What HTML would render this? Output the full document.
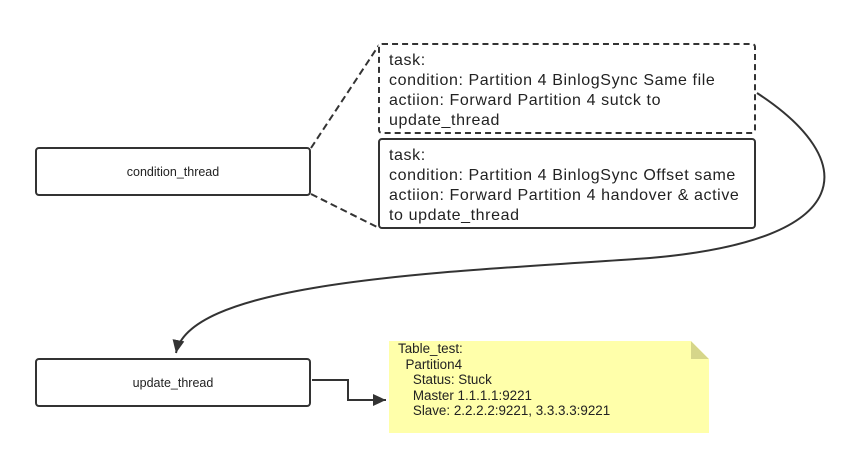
<!DOCTYPE html>
<html><head><style>
body{margin:0;width:851px;height:464px;background:#fff;position:relative;overflow:hidden;font-family:"Liberation Sans",sans-serif;}
.box{position:absolute;box-sizing:border-box;border:2px solid #333;border-radius:4px;background:#fff;}
.c{display:flex;align-items:center;justify-content:center;font-size:12.5px;color:#222;}
.t{font-size:16px;letter-spacing:0.6px;line-height:20px;color:#222;padding:6px 0 0 9px;white-space:nowrap;}
.note{position:absolute;left:389px;top:341px;width:320px;height:92px;background:#ffffaa;font-size:13.4px;line-height:15.5px;color:#222;padding:0;}
</style></head><body>
<svg width="851" height="464" style="position:absolute;left:0;top:0">
<defs><marker id="a" markerWidth="14" markerHeight="14" refX="13" refY="6" orient="auto" markerUnits="userSpaceOnUse"><path d="M0,0 L13,6 L0,12 z" fill="#333"/></marker></defs>
<path d="M311,148 L379,45" stroke="#333" stroke-width="2" stroke-dasharray="7,4" fill="none"/>
<path d="M311,194 L379,228" stroke="#333" stroke-width="2" stroke-dasharray="7,4" fill="none"/>
<path d="M757,93 C860,160 860,240 650,258 C450,272 190,280 176,353" stroke="#333" stroke-width="2" fill="none" marker-end="url(#a)"/>
<path d="M312,380 L348,380 L348,400 L386,400" stroke="#333" stroke-width="2" fill="none" marker-end="url(#a)"/>
</svg>
<div class="box c" style="left:35px;top:147px;width:276px;height:49px">condition_thread</div>
<div class="box c" style="left:35px;top:358px;width:276px;height:49px">update_thread</div>
<div class="box t" style="left:378px;top:43px;width:378px;height:91px;border:2px dashed #333">task:<br>condition: Partition 4 BinlogSync Same file<br>actiion: Forward Partition 4 sutck to<br>update_thread</div>
<div class="box t" style="left:378px;top:138px;width:378px;height:91px">task:<br>condition: Partition 4 BinlogSync Offset same<br>actiion: Forward Partition 4 handover &amp; active<br>to update_thread</div>
<div class="note"><div style="padding:0 0 0 9px">Table_test:<br>&nbsp;&nbsp;Partition4<br>&nbsp;&nbsp;&nbsp;&nbsp;Status: Stuck<br>&nbsp;&nbsp;&nbsp;&nbsp;Master 1.1.1.1:9221<br>&nbsp;&nbsp;&nbsp;&nbsp;Slave: 2.2.2.2:9221, 3.3.3.3:9221</div>
<svg width="18" height="18" style="position:absolute;right:0;top:0"><path d="M0,0 L18,18 L0,18 z" fill="#d6d68a"/><path d="M0,0 L18,0 L18,18 z" fill="#fff"/></svg></div>
</body></html>
